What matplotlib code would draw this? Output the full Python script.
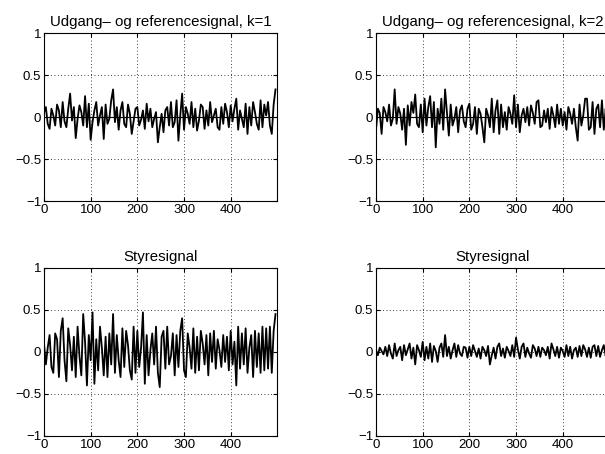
import numpy as np
import matplotlib
matplotlib.use("Agg")
import matplotlib.pyplot as plt

plt.rcParams['font.family'] = ['Liberation Sans', 'DejaVu Sans']
plt.rcParams['axes.unicode_minus'] = True

# sample index (every 4th sample)
n = list(range(0, 500, 4))

# output signal, k=1
y1 = [0.05, 0.12, -0.08, -0.14, 0.10, 0.02, -0.10, 0.15, 0.08, -0.12,
      0.18, -0.05, -0.12, 0.10, 0.28, -0.04, 0.12, -0.25, -0.02, 0.14,
      0.06, -0.10, 0.25, -0.12, 0.16, -0.27, -0.06, 0.08, 0.18, -0.10,
      0.02, 0.12, -0.26, 0.15, -0.08, -0.02, 0.20, 0.33, -0.06, 0.12,
      -0.15, 0.08, 0.18, -0.08, -0.12, 0.15, 0.04, -0.20, -0.05, 0.10,
      0.12, -0.10, -0.03, 0.08, -0.14, 0.16, -0.05, 0.10, -0.12, -0.02,
      0.06, -0.30, -0.12, 0.04, -0.18, 0.08, 0.12, -0.10, 0.18, -0.12,
      -0.06, 0.20, -0.28, 0.02, 0.28, -0.15, 0.12, 0.04, -0.08, 0.18,
      -0.12, 0.10, -0.16, -0.04, 0.15, 0.12, -0.14, 0.08, -0.10, 0.18,
      -0.06, 0.02, 0.10, -0.12, -0.15, 0.12, -0.08, 0.16, 0.06, -0.12,
      0.14, -0.05, 0.10, 0.22, -0.15, 0.08, -0.02, -0.12, 0.16, -0.20,
      0.12, -0.10, 0.18, 0.06, -0.08, -0.15, 0.20, -0.12, 0.15, 0.02,
      0.18, -0.10, -0.20, 0.15, 0.33]

# output signal, k=2
y2 = [-0.15, 0.10, 0.05, -0.20, 0.12, 0.06, -0.05, 0.15, -0.10, -0.02,
      0.33, -0.08, 0.12, 0.04, -0.15, 0.10, -0.33, 0.14, -0.10, 0.18,
      0.05, 0.27, -0.08, -0.12, 0.15, -0.18, 0.22, -0.10, 0.12, 0.25,
      -0.12, 0.18, -0.36, 0.10, -0.08, 0.22, -0.15, 0.33, 0.05, -0.22,
      0.15, -0.10, -0.02, 0.12, -0.18, 0.08, 0.14, -0.05, -0.12, 0.10,
      0.16, -0.15, -0.08, 0.12, -0.20, 0.10, 0.04, -0.12, -0.30, 0.10,
      0.02, -0.12, 0.22, -0.18, 0.08, 0.20, -0.20, 0.15, -0.12, 0.06,
      -0.15, 0.12, 0.04, -0.08, 0.26, -0.12, 0.15, -0.18, 0.02, 0.10,
      -0.06, 0.12, -0.10, 0.14, 0.05, -0.08, 0.18, 0.20, -0.12, -0.10,
      0.08, -0.06, 0.10, -0.14, 0.12, 0.02, -0.12, 0.15, -0.08, 0.10,
      -0.10, 0.06, -0.15, 0.12, 0.04, -0.08, 0.10, -0.12, -0.28, 0.15,
      -0.10, 0.02, 0.22, 0.22, -0.15, -0.12, 0.18, -0.20, 0.10, 0.15,
      -0.12, 0.20, -0.15, 0.10, -0.18]

# control signal, k=1
u1 = [0.10, -0.15, 0.05, 0.20, -0.18, -0.25, 0.22, 0.15, -0.30, 0.25,
      0.40, -0.10, -0.35, 0.28, 0.08, -0.22, 0.18, -0.30, 0.30, -0.05,
      -0.28, 0.45, 0.12, -0.40, 0.20, -0.10, 0.47, -0.38, 0.15, -0.22,
      0.30, 0.05, -0.28, 0.18, -0.30, 0.22, -0.15, 0.45, -0.25, 0.20,
      -0.10, -0.30, 0.28, -0.18, 0.25, 0.08, -0.22, -0.33, 0.30, -0.25,
      0.25, -0.18, 0.05, 0.47, -0.38, 0.20, -0.28, 0.02, 0.22, -0.15,
      0.30, -0.25, -0.42, 0.18, 0.25, -0.20, 0.30, -0.15, -0.05, 0.22,
      -0.28, 0.20, -0.18, 0.25, 0.40, -0.22, -0.30, 0.22, 0.05, -0.20,
      0.28, -0.25, 0.18, -0.22, 0.25, 0.10, -0.15, 0.20, -0.28, 0.22,
      -0.12, 0.25, -0.20, 0.15, 0.02, -0.18, 0.20, -0.12, 0.18, -0.22,
      0.25, -0.15, 0.12, -0.40, 0.30, -0.20, 0.22, -0.15, 0.28, -0.25,
      0.05, 0.20, -0.30, 0.25, -0.18, 0.22, -0.25, 0.30, -0.22, 0.28,
      -0.20, 0.30, -0.25, 0.25, 0.45]

# control signal, k=2
u2 = [0.02, -0.04, 0.05, 0.01, -0.03, 0.06, -0.05, 0.08, -0.02, -0.08,
      0.10, -0.05, 0.02, 0.06, -0.10, 0.08, -0.04, 0.03, 0.10, -0.08,
      0.05, -0.15, 0.08, 0.02, -0.06, 0.12, -0.10, 0.06, -0.08, 0.10,
      -0.12, 0.07, 0.01, -0.12, 0.05, 0.10, -0.06, 0.20, -0.05, 0.06,
      -0.08, 0.02, 0.10, -0.06, 0.08, -0.02, -0.05, 0.06, 0.05, -0.07,
      0.06, -0.05, 0.08, 0.01, -0.06, 0.04, -0.08, 0.06, 0.02, -0.05,
      0.07, -0.15, -0.04, 0.05, -0.08, 0.06, 0.10, -0.05, 0.04, -0.07,
      0.06, 0.01, -0.05, 0.08, -0.06, 0.17, 0.03, -0.08, 0.06, 0.10,
      -0.06, 0.05, -0.02, -0.07, 0.08, 0.04, -0.05, 0.06, -0.06, 0.05,
      0.02, -0.04, 0.06, -0.08, 0.10, 0.03, -0.05, 0.06, -0.07, 0.05,
      0.01, -0.06, 0.08, -0.05, 0.06, -0.08, 0.02, 0.05, -0.06, 0.07,
      -0.05, 0.08, 0.03, -0.06, 0.05, -0.07, 0.06, 0.08, -0.05, 0.07,
      -0.06, 0.02, 0.08, -0.05, 0.06]

# reference signal (zero)
ref_n = [0, 499]
ref = [0.0, 0.0]

xticks = [0, 100, 200, 300, 400]
yticks = [-1, -0.5, 0, 0.5, 1]
yticklabels = ['\u22121', '\u22120.5', '0', '0.5', '1']

fig = plt.figure(figsize=(6.05, 4.54), dpi=100)

# right column runs past the figure edge, like the cropped original
positions = [
    [0.0727, 0.557, 0.385, 0.370],
    [0.6215, 0.557, 0.385, 0.370],
    [0.0727, 0.040, 0.385, 0.370],
    [0.6215, 0.040, 0.385, 0.370],
]
titles = ['Udgang\u2013 og referencesignal, k=1', 'Udgang\u2013 og referencesignal, k=2',
          'Styresignal', 'Styresignal']
series = [y1, y2, u1, u2]

for i in range(4):
    ax = fig.add_axes(positions[i])
    ax.plot(n, series[i], color='black', linewidth=1.3)
    if i < 2:
        ax.plot(ref_n, ref, color='black', linewidth=0.8)
    ax.set_xlim(0, 499)
    ax.set_ylim(-1, 1)
    ax.set_xticks(xticks)
    ax.set_yticks(yticks)
    ax.set_yticklabels(yticklabels)
    ax.grid(True, color='black', linestyle=(0, (1, 3)), linewidth=0.6)
    ax.tick_params(direction='in', top=True, right=True, length=3,
                   labelsize=9.5, pad=2)
    for s in ax.spines.values():
        s.set_linewidth(0.8)
    ax.set_title(titles[i], fontsize=10.8, pad=5)

fig.savefig('out.png', dpi=100)
